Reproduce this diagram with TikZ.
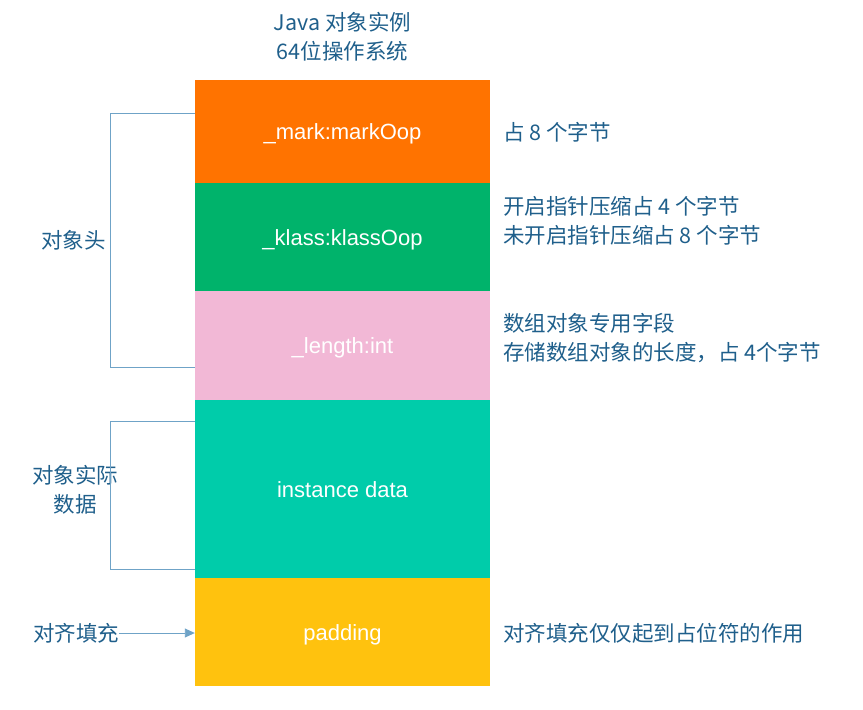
\documentclass[tikz,border=0pt]{standalone}
\usepackage{fontspec}
\setmainfont{Liberation Sans}
\newfontfamily\cjk{Noto Sans CJK SC}
\usetikzlibrary{arrows.meta}
\definecolor{txtblue}{HTML}{1F5F8B}
\definecolor{lineblue}{HTML}{6FA3C7}
\definecolor{cOrange}{HTML}{FF7300}
\definecolor{cGreen}{HTML}{00B36B}
\definecolor{cPink}{HTML}{F2B8D6}
\definecolor{cTeal}{HTML}{00CCAA}
\definecolor{cYellow}{HTML}{FFC20E}
\tikzset{
  field/.style={minimum width=295pt, inner sep=0pt, text=white, font=\fontsize{22}{26}\selectfont, text height=21pt, text depth=5pt},
  note/.style={text=txtblue, font=\cjk\fontsize{21.5}{29}\selectfont, inner sep=0pt, align=left},
  bracket/.style={draw=lineblue, line width=0.9pt},
}
\begin{document}
\begin{tikzpicture}[x=1pt,y=-1pt]
\useasboundingbox (0,0) rectangle (863,710);
\node[field, fill=cOrange, minimum height=103pt] (mark) at (342.5,131.5) {\_mark:markOop};
\node[field, fill=cGreen, minimum height=108pt] (klass) at (342.5,237) {\_klass:klassOop};
\node[field, fill=cPink, minimum height=109pt] (len) at (342.5,345.5) {\_length:int};
\node[field, fill=cTeal, minimum height=178pt] (inst) at (342.5,489) {instance data};
\node[field, fill=cYellow, minimum height=108pt] (pad) at (342.5,632) {padding};

\node[note, align=center] (title) at (342.5,37) {Java 对象实例\\64位操作系统};

\node[note, anchor=west] (n1) at (503,132) {占 8 个字节};
\node[note, anchor=west] (n2) at (503,221) {开启指针压缩占 4 个字节\\未开启指针压缩占 8 个字节};
\node[note, anchor=west] (n3) at (503,338) {数组对象专用字段\\存储数组对象的长度，占 4个字节};
\node[note, anchor=west] (n5) at (503,633) {对齐填充仅仅起到占位符的作用};

\node[note, anchor=east] (h) at (106,240) {对象头};
\node[note, align=center] (d) at (75,490) {对象实际\\数据};
\node[note, anchor=west] (p) at (33,633) {对齐填充};

\coordinate (b1t) at (195,113);
\coordinate (b1b) at (195,367);
\draw[bracket] (b1t) -- (110,113) -- (110,367) -- (b1b);
\coordinate (b2t) at (195,421);
\coordinate (b2b) at (195,569);
\draw[bracket] (b2t) -- (110,421) -- (110,569) -- (b2b);
\draw[bracket, -{Triangle[length=10pt,width=9pt]}] (p.east) -- (p.east -| pad.west);
\end{tikzpicture}
\end{document}
